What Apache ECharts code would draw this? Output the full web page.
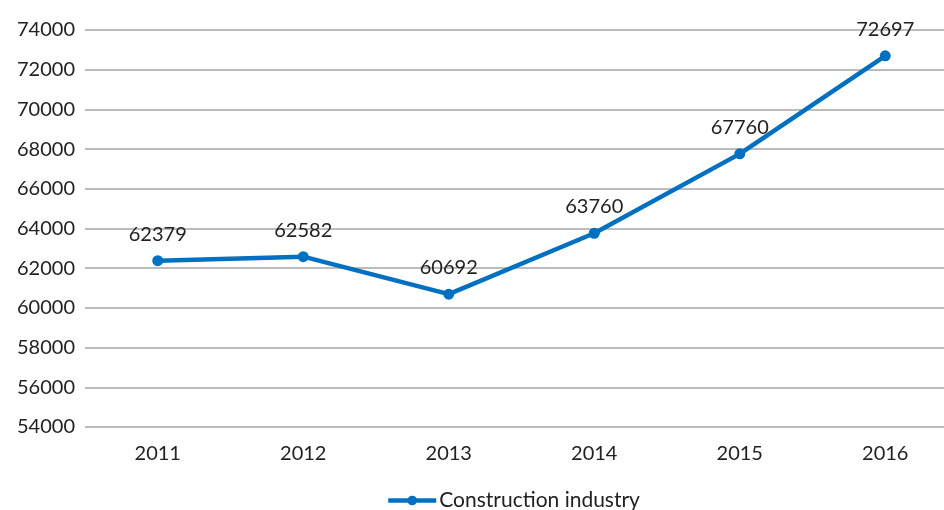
<!DOCTYPE html>
<html>
<head>
<meta charset="utf-8">
<script src="https://cdn.jsdelivr.net/npm/echarts@6/dist/echarts.min.js"></script>
<style>
  html, body { margin: 0; padding: 0; background: #fff; overflow: hidden; }
  #chart { width: 958px; height: 510px; }
</style>
</head>
<body>
<div id="chart"></div>
<script>
// data
const years = ['2011', '2012', '2013', '2014', '2015', '2016']
const construction = [62379, 62582, 60692, 63760, 67760, 72697]
const seriesName = 'Construction industry'

const chart = echarts.init(document.getElementById('chart'))
const font = 'Lato, "Open Sans", sans-serif'
const option = {
  animation: false,
  textStyle: { fontFamily: font },
  grid: { left: 85, right: 0, top: 30, bottom: 83, containLabel: false },
  legend: {
    top: 485,
    left: 381,
    itemWidth: 48,
    itemHeight: 12,
    itemGap: 6,
    lineStyle: { width: 4.5 },
    textStyle: { fontSize: 21, color: '#222', fontFamily: font, padding: [0, 0, 0, -2] },
    data: [seriesName]
  },
  xAxis: {
    type: 'category',
    data: years,
    axisLine: { show: false },
    axisTick: { show: false },
    axisLabel: { color: '#222', fontSize: 20, margin: 17 }
  },
  yAxis: {
    type: 'value',
    min: 54000,
    max: 74000,
    interval: 2000,
    axisLabel: { color: '#222', fontSize: 20, margin: 10, formatter: v => String(v) },
    splitLine: { lineStyle: { color: '#a6a6a6', width: 1.5 } }
  },
  series: [{
    name: seriesName,
    type: 'line',
    data: construction,
    symbol: 'circle',
    symbolSize: 11,
    color: '#0070C0',
    lineStyle: { width: 4.5, color: '#0070C0' },
    label: {
      show: true,
      position: 'top',
      distance: 11,
      fontSize: 20,
      color: '#222'
    }
  }]
}
chart.setOption(option)
</script>
</body>
</html>
